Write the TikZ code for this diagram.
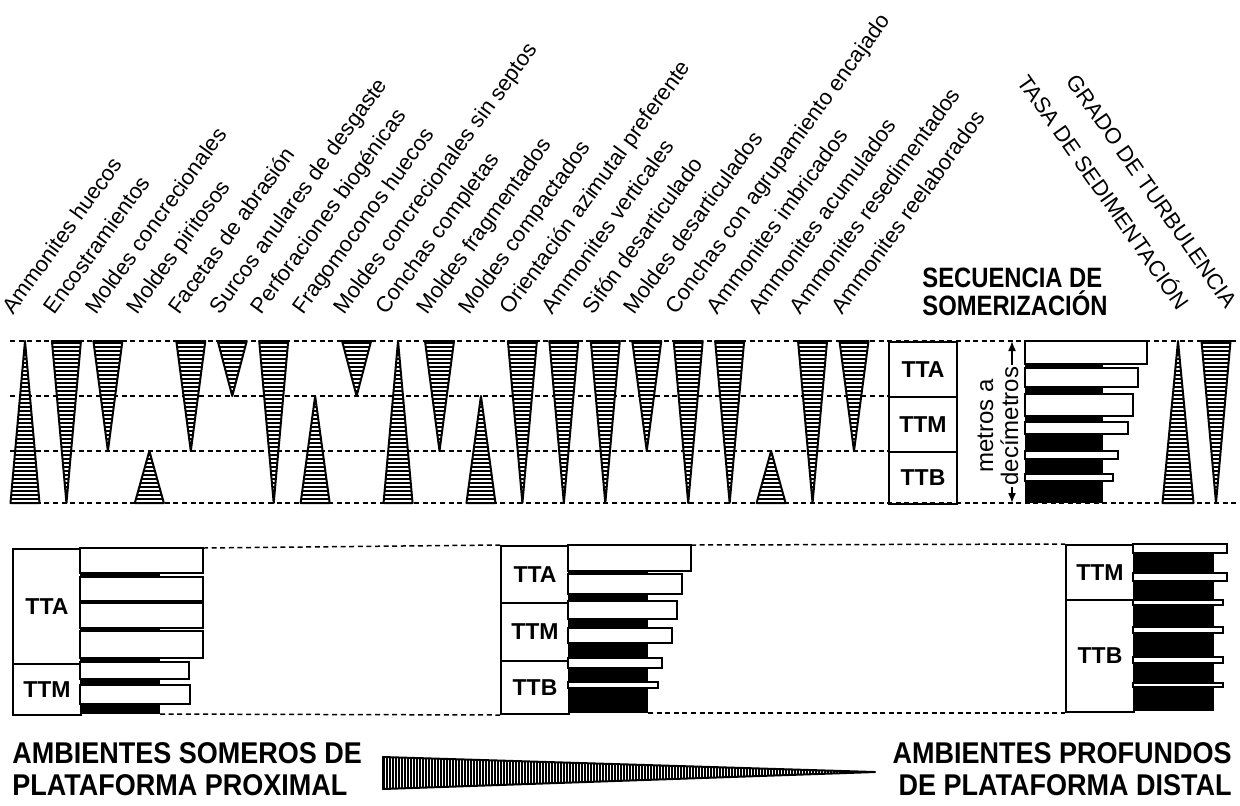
\documentclass[tikz,border=0pt]{standalone}
\usepackage{fontspec}
\setmainfont{Liberation Sans}
\newfontfamily\narrowsans[FakeStretch=0.9]{Liberation Sans}
\newfontfamily\titlesans[FakeStretch=0.85]{Liberation Sans}
\usetikzlibrary{arrows.meta}

\newcommand\hattri[4]{% centre x, base y, apex y, half width
  \begin{scope}
    \clip (#1-#4,#2) -- (#1+#4,#2) -- (#1,#3) -- cycle;
    \fill[white] (#1-#4,338) rectangle (#1+#4,506);
    \foreach \yy in {343,347,...,503}
      \draw[hatch] (#1-#4,\yy) -- (#1+#4,\yy);
  \end{scope}
  \draw[tri] (#1-#4,#2) -- (#1+#4,#2) -- (#1,#3) -- cycle;}

\begin{document}
\begin{tikzpicture}[x=0.5pt,y=-0.5pt,
 lbl/.style={rotate=54,anchor=base west,inner sep=0pt,font=\fontsize{11}{12}\selectfont},
 rlbl/.style={rotate=-55,anchor=base east,inner sep=0pt,font=\fontsize{11}{12}\selectfont},
 ttbox/.style={draw,line width=1pt,anchor=north west,minimum width=34pt,minimum height=#1,inner sep=0pt,font=\bfseries\fontsize{11.5}{13}\selectfont},
 bar/.style={draw,fill=white,line width=1pt},
 tri/.style={draw,line width=1pt,line join=round},
 hatch/.style={line width=0.7pt},
 dashln/.style={dash pattern=on 2.5pt off 1.8pt,line width=0.75pt},
 big/.style={font=\narrowsans\bfseries\fontsize{15}{16}\selectfont,inner sep=0pt}]
\useasboundingbox (0,0) rectangle (1240,805);

\draw[dashln] (10,341) -- (1237,341);
\draw[dashln] (10,396) -- (888,396);
\draw[dashln] (10,451) -- (888,451);
\draw[dashln] (10,503) -- (1237,503);

\foreach \i/\b/\a in {1/503/341,2/341/503,3/341/451,4/503/451,5/341/451,6/341/396,7/341/503,
  8/503/396,9/341/396,10/503/341,11/341/451,12/503/396,13/341/503,14/341/503,15/341/503,
  16/341/451,17/341/503,18/341/503,19/503/451,20/341/503,21/341/451}{
  \pgfmathsetmacro\xc{25+41.45*(\i-1)}
  \hattri{\xc}{\b}{\a}{14.5}
}
\hattri{1178}{503}{341}{15.5}
\hattri{1216}{341}{503}{14.5}

\foreach \i/\txt in {1/Ammonites huecos,2/Encostramientos,3/Moldes concrecionales,
  4/Moldes piritosos,5/Facetas de abrasión,6/Surcos anulares de desgaste,
  7/Perforaciones biogénicas,8/Fragomoconos huecos,9/Moldes concrecionales sin septos,
  10/Conchas completas,11/Moldes fragmentados,12/Moldes compactados,
  13/Orientación azimutal preferente,14/Ammonites verticales,15/Sifón desarticulado,
  16/Moldes desarticulados,17/Conchas con agrupamiento encajado,18/Ammonites imbricados,
  19/Ammonites acumulados,20/Ammonites resedimentados,21/Ammonites reelaborados}
  \node[lbl] (lab\i) at ({13+41.45*(\i-1)},316) {\txt};
\node[rlbl] (tasa) at (1178,312) {TASA DE SEDIMENTACIÓN};
\node[rlbl] (grado) at (1226,310) {GRADO DE TURBULENCIA};
\node[font=\titlesans\bfseries\fontsize{14}{12.5}\selectfont,align=left,anchor=north west,inner sep=0pt] (titulo) at (922,268) {SECUENCIA DE\\SOMERIZACIÓN};

\node[ttbox=27.5pt] (sTTA) at (888,341) {TTA};
\node[ttbox=27.5pt] (sTTM) at (888,396) {TTM};
\node[ttbox=26pt] (sTTB) at (888,451) {TTB};

\coordinate (mtop) at (1012,341);
\coordinate (mbot) at (1012,503);
\draw[{Latex[length=5pt,width=4pt]}-{Latex[length=5pt,width=4pt]},line width=0.8pt] (mtop) -- (mbot);
\node[rotate=90,fill=white,align=center,inner sep=1pt,font=\fontsize{12}{12.5}\selectfont] (metros) at (998,426) {metros a\\decímetros};

\fill (1025,341) rectangle (1103,503);
\foreach \ya/\yb/\xr in {341/364/1147,368/387/1138,394/416/1133,422/434/1128,451/459/1118,474/481/1113}
  \draw[bar] (1025,\ya) rectangle (\xr,\yb);

\node[ttbox=57.5pt] (aTTA) at (12,548) {TTA};
\node[ttbox=25.5pt] (aTTM) at (12,663) {TTM};
\fill (80,548) rectangle (160,714);
\foreach \ya/\yb/\xr in {548/573/203,577/601/203,603/628/203,631/658/203,662/679/189,685/704/190}
  \draw[bar] (80,\ya) rectangle (\xr,\yb);

\node[ttbox=28.5pt] (bTTA) at (500,545) {TTA};
\node[ttbox=29pt] (bTTM) at (500,602) {TTM};
\node[ttbox=26.5pt] (bTTB) at (500,660) {TTB};
\fill (568,545) rectangle (648,713);
\foreach \ya/\yb/\xr in {545/571/691,574/594/682,601/619/677,628/643/672,658/668/662,682/688/658}
  \draw[bar] (568,\ya) rectangle (\xr,\yb);

\node[ttbox=27.5pt] (cTTM) at (1065,544) {TTM};
\node[ttbox=56pt] (cTTB) at (1065,599) {TTB};
\fill (1133,544) rectangle (1214,711);
\foreach \ya/\yb/\xr in {544/553/1227,573/581/1227,600/605/1223,627/633/1223,657/663/1223,683/687/1223}
  \draw[bar] (1133,\ya) rectangle (\xr,\yb);

\coordinate (aend) at (203,548);
\coordinate (abot) at (160,714);
\coordinate (bend) at (691,545);
\coordinate (bbot) at (648,713);
\draw[dashln] (aend) -- (bTTA.north west);
\draw[dashln] (abot) -- (bTTB.south west);
\draw[dashln] (bend) -- (cTTM.north west);
\draw[dashln] (bbot) -- (cTTB.south west);

\node[big,align=left,anchor=north west] (somero) at (12,742) {AMBIENTES SOMEROS DE\\PLATAFORMA PROXIMAL};
\node[big,align=right,anchor=north east] (profundo) at (1232,742) {AMBIENTES PROFUNDOS\\DE PLATAFORMA DISTAL};
\begin{scope}
  \clip (383,757) -- (875,772) -- (383,789) -- cycle;
  \foreach \xx in {384,387,...,876}
    \draw[hatch] (\xx,755) -- (\xx,791);
\end{scope}
\draw[tri] (383,757) -- (875,772) -- (383,789) -- cycle;
\end{tikzpicture}
\end{document}
